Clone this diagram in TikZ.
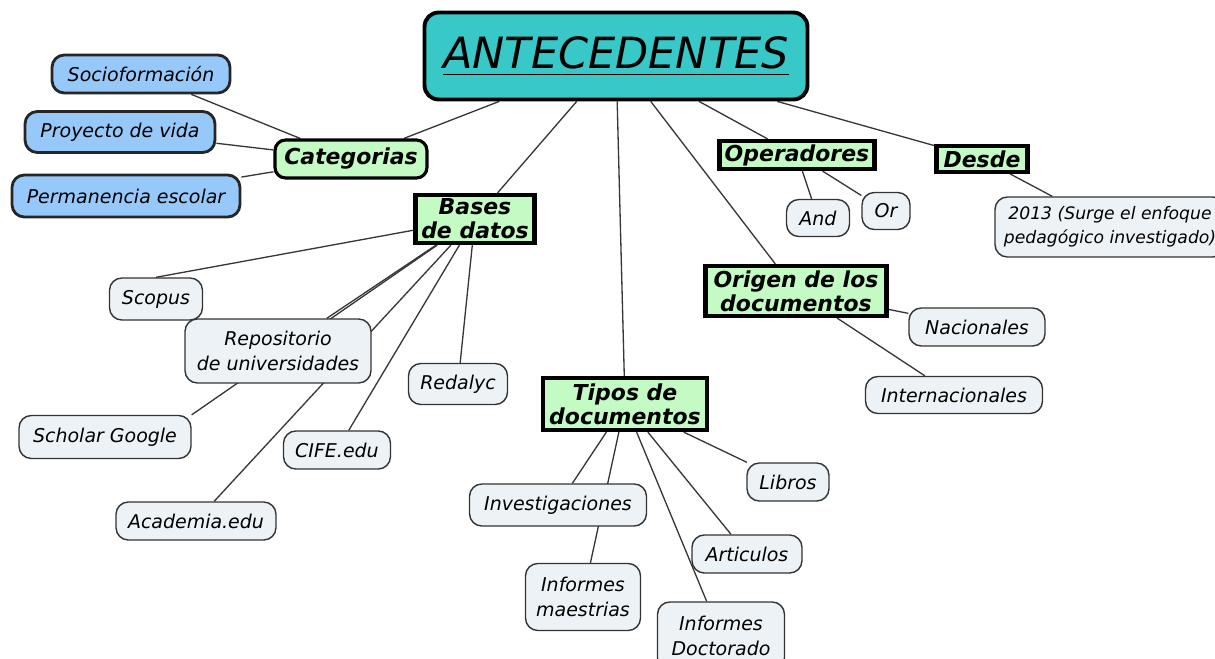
\documentclass[tikz,border=0pt]{standalone}
\usepackage{fontspec}
\setmainfont{DejaVu Sans}
\usetikzlibrary{positioning,backgrounds}
\definecolor{teal1}{RGB}{56,200,200}
\definecolor{green1}{RGB}{196,250,196}
\definecolor{blue1}{RGB}{150,200,250}
\definecolor{leafbg}{RGB}{236,242,246}
\definecolor{linegray}{RGB}{55,55,55}
\newcommand{\titleul}[1]{\setbox0=\hbox{#1}\rlap{\rule[-4pt]{\wd0}{0.9pt}}\box0}

\begin{document}
\begin{tikzpicture}[
    x=0.02cm, y=-0.02cm,
    root/.style={draw=black, line width=2.2pt, rounded corners=8pt, fill=teal1,
                 font=\fontsize{24.5}{28}\selectfont\itshape, inner sep=2pt},
    catbox/.style={draw=black, line width=1.8pt, rounded corners=6pt, fill=green1,
                   font=\fontsize{12.5}{13.5}\selectfont\bfseries\itshape, inner sep=1pt},
    hub/.style={draw=black, line width=2.4pt, fill=green1, align=center,
                font=\fontsize{12.5}{13.5}\selectfont\bfseries\itshape, inner sep=1pt},
    topic/.style={draw=black!85, line width=1.6pt, rounded corners=7pt, fill=blue1,
                  font=\fontsize{10.8}{14}\selectfont\itshape, inner sep=1pt},
    leaf/.style={draw=black!80, line width=0.8pt, rounded corners=7pt, fill=leafbg,
                 font=\fontsize{10.8}{14}\selectfont\itshape, align=center, inner sep=1pt},
    link/.style={draw=linegray, line width=0.75pt}
]
    \useasboundingbox (0,0) rectangle (1215,659);

    \node[root, minimum width=7.66cm, minimum height=1.74cm] (antec) at (616,56) {\titleul{ANTECEDENTES}};

    \node[catbox, minimum width=3.04cm, minimum height=0.76cm] (cat) at (351,159) {Categorias};
    \node[topic, minimum width=3.56cm, minimum height=0.76cm] (socio) at (141,74) {Socioformación};
    \node[topic, minimum width=3.8cm, minimum height=0.82cm] (proy) at (120,132) {Proyecto de vida};
    \node[topic, minimum width=4.56cm, minimum height=0.84cm] (perm) at (126,196) {Permanencia escolar};

    \node[hub, minimum width=2.38cm, minimum height=0.96cm] (bases) at (475,219) {Bases\\de datos};
    \node[leaf, minimum width=1.86cm, minimum height=0.84cm] (scopus) at (156,299) {Scopus};
    \node[leaf, minimum width=3.72cm, minimum height=1.28cm] (repo) at (278,351) {Repositorio\\de universidades};
    \node[leaf, minimum width=1.98cm, minimum height=0.82cm] (redalyc) at (458,384) {Redalyc};
    \node[leaf, minimum width=3.44cm, minimum height=0.86cm] (scholar) at (105,437) {Scholar Google};
    \node[leaf, minimum width=2.14cm, minimum height=0.76cm] (cife) at (337,450) {CIFE.edu};
    \node[leaf, minimum width=3.2cm, minimum height=0.76cm] (academia) at (196,521) {Academia.edu};

    \node[hub, minimum width=3.1cm, minimum height=0.56cm] (oper) at (797,155) {Operadores};
    \node[leaf, minimum width=1.26cm, minimum height=0.74cm] (andop) at (818,218) {And};
    \node[leaf, minimum width=0.96cm, minimum height=0.74cm] (orop) at (886,211) {Or};

    \node[hub, minimum width=1.82cm, minimum height=0.52cm] (desde) at (982,159) {Desde};
    \node[leaf, minimum width=4.6cm, minimum height=1.2cm, font=\fontsize{9.8}{13.5}\selectfont\itshape] (y2013) at (1110,227) {2013 (Surge el enfoque\\pedagógico investigado)};

    \node[hub, minimum width=3.62cm, minimum height=1.0cm] (origen) at (796,291) {Origen de los\\documentos};
    \node[leaf, minimum width=2.72cm, minimum height=0.76cm] (nac) at (977,327) {Nacionales};
    \node[leaf, minimum width=3.54cm, minimum height=0.74cm] (inter) at (954,395) {Internacionales};

    \node[hub, minimum width=3.28cm, minimum height=1.04cm] (tipos) at (625,404) {Tipos de\\documentos};
    \node[leaf, minimum width=1.64cm, minimum height=0.76cm] (libros) at (788,482) {Libros};
    \node[leaf, minimum width=2.2cm, minimum height=0.76cm] (artic) at (747,554) {Articulos};
    \node[leaf, minimum width=3.54cm, minimum height=0.84cm] (invest) at (558,505) {Investigaciones};
    \node[leaf, minimum width=2.3cm, minimum height=1.34cm] (maest) at (583,597) {Informes\\maestrias};
    \node[leaf, minimum width=2.54cm, minimum height=1.36cm] (doct) at (721,636) {Informes\\Doctorado};

    \begin{scope}[on background layer]
        \fill[white] (0,0) rectangle (1215,659);
        \draw[link] (antec) -- (cat);
        \draw[link] (antec) -- (bases);
        \draw[link] (antec) -- (tipos);
        \draw[link] (antec) -- (origen);
        \draw[link] (antec) -- (oper);
        \draw[link] (antec) -- (desde);
        \draw[link] (cat) -- (socio);
        \draw[link] (cat) -- (proy);
        \draw[link] (cat) -- (perm);
        \draw[link] (bases) -- (scopus.north);
        \draw[link] (bases) -- (repo);
        \draw[link] (bases) -- (scholar.north east);
        \draw[link] (bases) -- (academia);
        \draw[link] (bases) -- (cife);
        \draw[link] (bases) -- (redalyc);
        \draw[link] (oper) -- (andop);
        \draw[link] (oper) -- (orop);
        \draw[link] (desde) -- (y2013);
        \draw[link] (origen) -- (nac);
        \draw[link] (origen) -- (inter);
        \draw[link] (tipos) -- (libros);
        \draw[link] (tipos) -- (artic);
        \draw[link] (tipos) -- (doct);
        \draw[link] (tipos) -- (invest);
        \draw[link] (tipos) -- (maest);
    \end{scope}
\end{tikzpicture}
\end{document}
